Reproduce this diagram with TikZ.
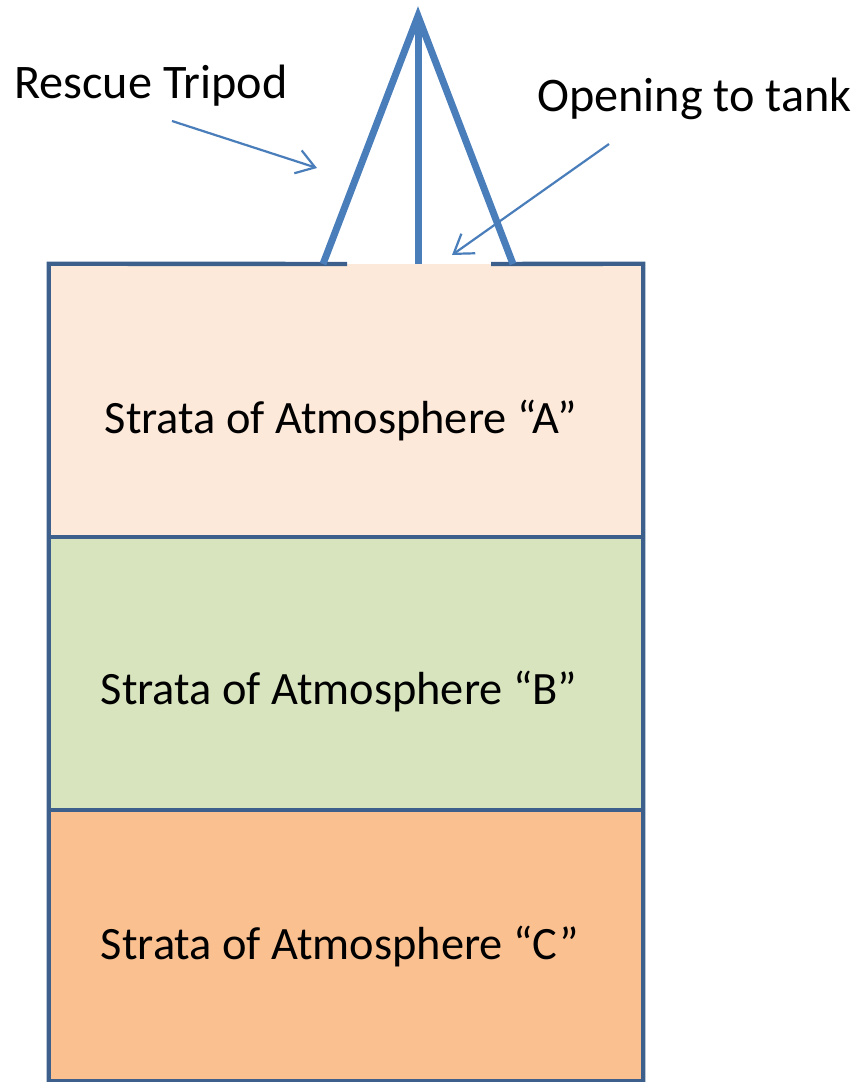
\documentclass[tikz,border=0pt]{standalone}
\usepackage{fontspec}
\setmainfont{Carlito}
\usetikzlibrary{positioning,arrows.meta}
\definecolor{cA}{RGB}{253,233,217}
\definecolor{cB}{RGB}{215,228,189}
\definecolor{cC}{RGB}{250,192,144}
\definecolor{cWall}{RGB}{60,95,140}
\definecolor{cLeg}{RGB}{74,126,187}
\tikzset{
  stratum/.style={
    rectangle, draw=none, inner sep=0pt, minimum width=148.5mm,
  },
  lab/.style={font=\fontsize{33}{40}\selectfont, text=black, inner sep=0pt},
  toplab/.style={lab, font=\fontsize{34.3}{41}\selectfont},
  wall/.style={draw=cWall, line width=1.1mm},
  leg/.style={draw=cLeg, line width=1.75mm},
  pointer/.style={-{Straight Barb[length=4.5mm,width=6mm]}, line width=0.55mm, draw=cLeg},
}

\begin{document}
\begin{tikzpicture}[x=0.25mm, y=-0.25mm]
\useasboundingbox (0,0) rectangle (859,1082);

% ===== tank strata =====
\node[stratum, fill=cA, minimum height=68.25mm] (sA) at (346,400.5) {};
\node[stratum, fill=cB, minimum height=68mm, below=0pt of sA] (sB) {};
\node[stratum, fill=cC, minimum height=67.75mm, below=0pt of sB] (sC) {};

\node[lab, anchor=base] (labA) at (341,433) {Strata of Atmosphere “A”};
\node[lab, anchor=base] (labB) at (339,704) {Strata of Atmosphere “B”};
\node[lab, anchor=base] (labC) at (340,959) {Strata of Atmosphere “C”};

% ===== tank walls, opening left in the top =====
\coordinate (gapL) at (347,264);
\coordinate (gapR) at (491,264);
\draw[wall] (gapL) -- (sA.north west) -- (sC.south west)
  -- (sC.south east) -- (sA.north east) -- (gapR);
\draw[wall] (sA.south west) -- (sA.south east);
\draw[wall] (sB.south west) -- (sB.south east);

% ===== tripod =====
\coordinate (apex) at (418,16);
\coordinate (footL) at (323,264);
\coordinate (footC) at (418,264);
\coordinate (footR) at (513,264);
\draw[leg] (footL) -- (apex) -- (footR);
\draw[leg] (apex) -- (footC);

% ===== labels + pointers =====
\node[toplab, anchor=base west] (tripodLab) at (14,98) {Rescue Tripod};
\node[toplab, anchor=base west] (openLab) at (537,111) {Opening to tank};

\coordinate (tripodTail) at (172,121);
\coordinate (tripodTip) at (317,168);
\coordinate (openTail) at (609,144);
\coordinate (openTip) at (452,255);
\draw[pointer] (tripodTail) -- (tripodTip);
\draw[pointer] (openTail) -- (openTip);

\end{tikzpicture}
\end{document}
